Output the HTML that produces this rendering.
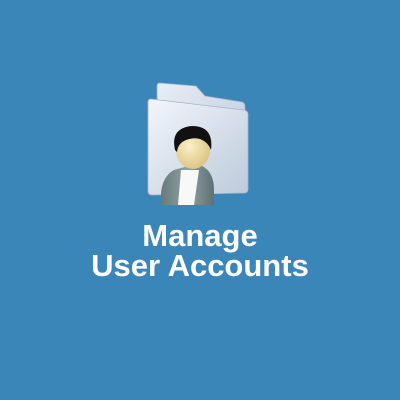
<!DOCTYPE html>
<html><head><style>
html,body{margin:0;padding:0}
body{width:400px;height:400px;background:#3a86b9;position:relative;overflow:hidden;font-family:"Liberation Sans",sans-serif}
.t{position:absolute;left:0;width:400px;text-align:center;color:#fff;font-weight:bold;font-size:31px;line-height:30px}
</style></head><body>
<svg width="400" height="400" style="position:absolute;left:0;top:0">
<defs>
<linearGradient id="f1" x1="0" y1="0" x2="1" y2="1"><stop offset="0" stop-color="#e8eef6"/><stop offset="1" stop-color="#b7c6d8"/></linearGradient>
<linearGradient id="f2" x1="0" y1="0" x2="1" y2="1"><stop offset="0" stop-color="#f3f6fa"/><stop offset="1" stop-color="#bccadb"/></linearGradient>
<radialGradient id="hd" cx="0.4" cy="0.4" r="0.7"><stop offset="0" stop-color="#fbf0c8"/><stop offset="1" stop-color="#d9bf7a"/></radialGradient>
<linearGradient id="bd" x1="0" y1="0" x2="1" y2="0"><stop offset="0" stop-color="#66797c"/><stop offset="0.5" stop-color="#8fa3a3"/><stop offset="1" stop-color="#5e7073"/></linearGradient>
</defs>
<path d="M157 86 Q157 83 160 83 L196 86 L205 96 L242 102 Q245 103 245 106 L245 188 L157 188 Z" fill="url(#f1)" stroke="#9fb0c4" stroke-width="0.8"/>
<path d="M148 102 Q148 99 151 99 L244 110 Q248 111 248 114 L248 189 Q248 193 244 193 L152 195 Q148 195 148 191 Z" fill="url(#f2)" stroke="#a5b5c8" stroke-width="0.8"/>
<path d="M161 205 Q159 178 174 170 L188 166 L202 166 Q214 172 214 190 L214 205 Z" fill="url(#bd)"/>
<path d="M181 170 L199 170 L194 205 L178 205 Z" fill="#f8f8f8"/>
<ellipse cx="193" cy="150" rx="17" ry="19" fill="url(#hd)"/>
<path d="M175 150 Q170 128 192 126 Q214 126 211 150 Q208 142 200 139 Q194 137 186 140 Q178 143 177 152 Z" fill="#111"/>
</svg>
<div class="t" style="top:221px">Manage</div>
<div class="t" style="top:251px">User Accounts</div>
</body></html>
